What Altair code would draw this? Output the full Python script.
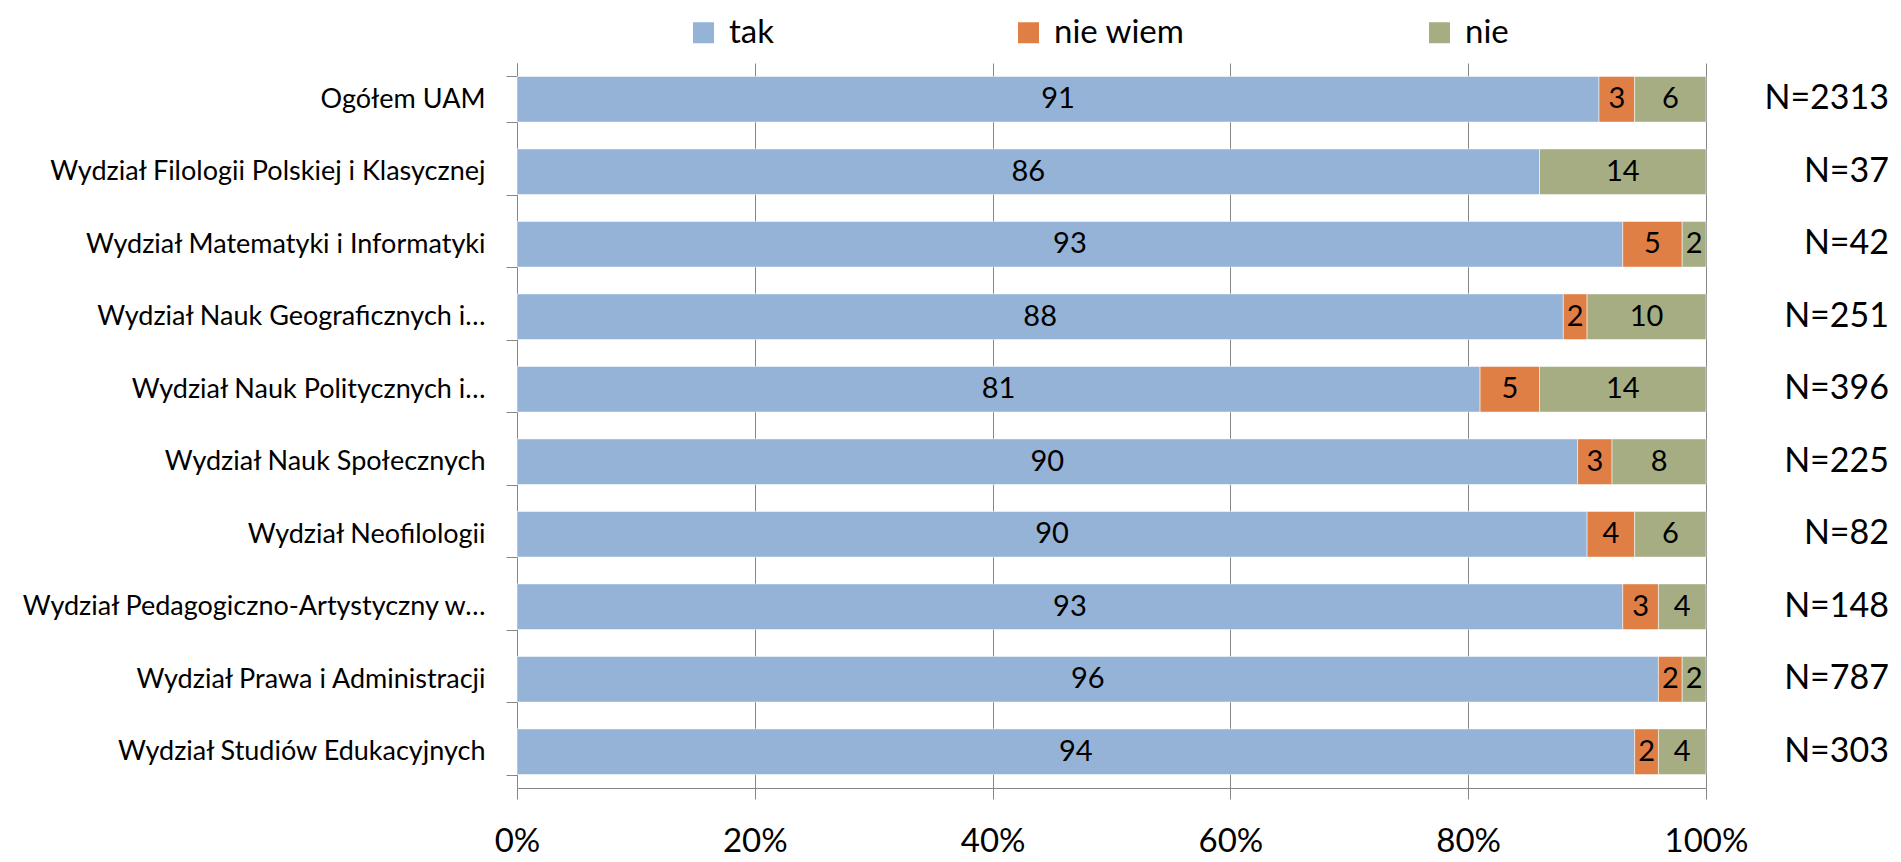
import altair as alt
import pandas as pd

categories = [
    "Ogółem UAM",
    "Wydział Filologii Polskiej i Klasycznej",
    "Wydział Matematyki i Informatyki",
    "Wydział Nauk Geograficznych i…",
    "Wydział Nauk Politycznych i…",
    "Wydział Nauk Społecznych",
    "Wydział Neofilologii",
    "Wydział Pedagogiczno-Artystyczny w…",
    "Wydział Prawa i Administracji",
    "Wydział Studiów Edukacyjnych",
]
answers = ["tak", "nie wiem", "nie"]
tak = [91, 86, 93, 88, 81, 89.2, 90, 93, 96, 94]
nie_wiem = [3, 0, 5, 2, 5, 2.9, 4, 3, 2, 2]
nie = [6, 14, 2, 10, 14, 7.9, 6, 4, 2, 4]
tak_labels = ["91", "86", "93", "88", "81", "90", "90", "93", "96", "94"]
nie_wiem_labels = ["3", "", "5", "2", "5", "3", "4", "3", "2", "2"]
nie_labels = ["6", "14", "2", "10", "14", "8", "6", "4", "2", "4"]
n_labels = ["N=2313", "N=37", "N=42", "N=251", "N=396", "N=225", "N=82", "N=148", "N=787", "N=303"]
colors = ["#95B3D7", "#E07F45", "#A6AD82"]
x_ticks = [0, 20, 40, 60, 80, 100]

rows = []
for i, cat in enumerate(categories):
    for j, (vals, labs) in enumerate([(tak, tak_labels), (nie_wiem, nie_wiem_labels), (nie, nie_labels)]):
        rows.append({"category": cat, "answer": answers[j], "ord": j, "value": vals[i], "label": labs[i]})
df = pd.DataFrame(rows)
ndf = pd.DataFrame({"category": categories, "n": n_labels})

FONT = "Lato"
GRID = "#868686"
W, H = 1189, 725

y_enc = alt.Y(
    "category:N", sort=categories, title=None,
    scale=alt.Scale(paddingInner=0.37, paddingOuter=0.185),
    axis=alt.Axis(labelFont=FONT, labelFontSize=27, labelColor="#000000", labelPadding=21,
                  tickBand="extent", tickSize=11, tickColor=GRID, domainColor=GRID,
                  labelLimit=700, grid=False),
)
x_scale = alt.Scale(domain=[0, 100], nice=False, zero=True)
x_axis = alt.Axis(values=x_ticks, labelExpr="datum.value + '%'", grid=True, gridColor=GRID,
                  tickColor=GRID, domainColor=GRID, tickSize=11, labelFont=FONT,
                  labelFontSize=33, labelPadding=26, labelColor="#000000", title=None,
                  labelFlush=False)

base = alt.Chart(df).transform_stack(
    stack="value", groupby=["category"], as_=["v0", "v1"],
    sort=[alt.SortField("ord", order="ascending")],
)

bars = base.mark_bar(stroke="#ffffff", strokeOpacity=0.5, strokeWidth=1).encode(
    x=alt.X("v0:Q", scale=x_scale, axis=x_axis, title=None),
    x2="v1:Q",
    y=y_enc,
    color=alt.Color(
        "answer:N",
        scale=alt.Scale(domain=answers, range=colors),
        legend=alt.Legend(orient="none", legendX=170, legendY=-47, direction="horizontal",
                          title=None, symbolType="square", symbolSize=441, symbolStrokeWidth=0,
                          symbolOpacity=1, labelFont=FONT, labelFontSize=33, labelColor="#000000",
                          labelOffset=9, columnPadding=238, padding=0),
    ),
)

seg_labels = base.transform_filter("datum.label != ''").transform_calculate(
    mid="(datum.v0 + datum.v1) / 2"
).mark_text(font=FONT, fontSize=29, color="#000000", baseline="middle", align="center").encode(
    x=alt.X("mid:Q", scale=x_scale, axis=x_axis, title=None),
    y=y_enc,
    text="label:N",
)

n_text = alt.Chart(ndf).mark_text(font=FONT, fontSize=34, align="right", baseline="middle",
                                  color="#000000").encode(
    y=y_enc,
    x=alt.value(1889 - 517),
    text="n:N",
)

chart = alt.layer(bars, seg_labels, n_text).properties(
    width=W, height=H,
    autosize=alt.AutoSizeParams(type="none"),
    padding={"left": 509, "top": 55, "right": 186, "bottom": 74},
).configure_view(stroke=None)

chart.save("out.html", embed_options={"renderer": "svg", "actions": False})
